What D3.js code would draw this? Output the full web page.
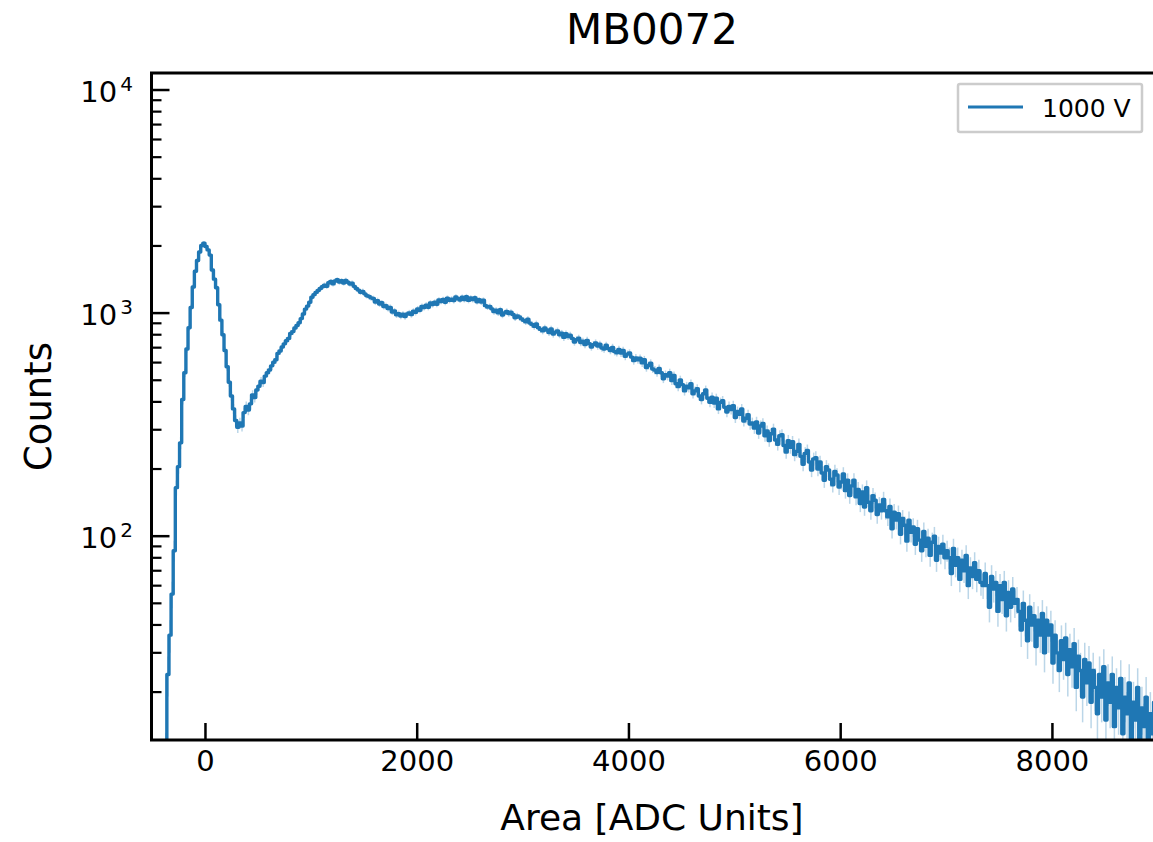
<!DOCTYPE html>
<html>
<head>
<meta charset="utf-8">
<script src="https://cdn.jsdelivr.net/npm/d3@7"></script>
<style>
    body { margin: 0; background: #fff; }
    text { font-family: "DejaVu Sans", sans-serif; fill: #000; }
</style>
</head>
<body>
<div id="chart"></div>
<script>
// histogram binning (ADC units)
let binStart = -400;
let binWidth = 20;

// counts per bin, 10 bins (200 ADC) per row
let counts = [
    5, 10, 24, 36, 55, 86, 165, 205, 262, 410,             // -400
    540, 690, 860, 1060, 1310, 1540, 1720, 1880, 2010, 2060, // -200
    1990, 1920, 1820, 1560, 1420, 1300, 1090, 930, 800, 680, // 0
    575, 490, 425, 372, 330, 308, 322, 312, 358, 382,       // 200
    368, 392, 430, 418, 452, 470, 495, 488, 522, 540,       // 400
    556, 580, 602, 618, 660, 676, 705, 728, 752, 770,       // 600
    810, 826, 858, 880, 905, 945, 990, 1042, 1075, 1118,    // 800
    1178, 1210, 1238, 1262, 1290, 1312, 1335, 1320, 1368, 1385, // 1000
    1352, 1392, 1410, 1378, 1398, 1365, 1402, 1375, 1350, 1362, // 1200
    1318, 1290, 1268, 1240, 1252, 1220, 1196, 1188, 1170, 1162, // 1400
    1120, 1138, 1098, 1112, 1070, 1080, 1048, 1060, 1012, 1022, // 1600
    982, 995, 970, 988, 965, 990, 1002, 985, 1020, 1008,    // 1800
    1045, 1030, 1072, 1060, 1085, 1062, 1110, 1092, 1118, 1096, // 2000
    1145, 1128, 1150, 1118, 1165, 1140, 1155, 1138, 1180, 1160, // 2200
    1145, 1178, 1150, 1185, 1140, 1168, 1150, 1172, 1125, 1148, // 2400
    1120, 1142, 1080, 1065, 1072, 1045, 1015, 1030, 1002, 1035, // 2600
    980, 1002, 1018, 995, 1010, 985, 952, 972, 960, 942,    // 2800
    928, 915, 938, 902, 890, 872, 895, 860, 845, 832,       // 3000
    858, 840, 818, 848, 805, 822, 832, 800, 812, 778,       // 3200
    808, 785, 796, 770, 742, 760, 772, 738, 748, 722,       // 3400
    755, 730, 705, 722, 735, 712, 725, 698, 690, 718,       // 3600
    694, 680, 702, 672, 664, 688, 662, 680, 640, 655,       // 3800
    662, 635, 612, 630, 618, 628, 598, 618, 570, 582,       // 4000
    596, 562, 555, 542, 565, 540, 508, 530, 522, 540,       // 4200
    498, 525, 482, 468, 502, 478, 448, 470, 462, 482,       // 4400
    435, 448, 458, 425, 410, 435, 452, 415, 398, 420,       // 4600
    395, 415, 372, 398, 405, 378, 360, 382, 370, 385,       // 4800
    340, 362, 352, 372, 328, 338, 350, 318, 322, 305,       // 5000
    325, 290, 312, 320, 282, 296, 268, 288, 302, 270,       // 5200
    258, 282, 285, 255, 238, 268, 250, 265, 232, 240,       // 5400
    258, 228, 210, 235, 242, 215, 198, 222, 225, 200,       // 5600
    215, 192, 178, 205, 198, 180, 170, 195, 188, 166,       // 5800
    175, 190, 160, 178, 152, 168, 178, 150, 162, 140,       // 6000
    158, 135, 165, 142, 130, 152, 145, 125, 138, 130,       // 6200
    146, 130, 122, 136, 108, 128, 118, 126, 102, 120,       // 6400
    112, 95, 118, 104, 110, 92, 108, 96, 86, 105,           // 6600
    90, 98, 82, 94, 100, 78, 90, 84, 92, 80,                // 6800
    86, 80, 68, 88, 74, 80, 64, 78, 70, 82,                 // 7000
    60, 72, 66, 76, 64, 70, 62, 60, 68, 60,                 // 7200
    48, 66, 58, 62, 46, 60, 52, 62, 44, 56,                 // 7400
    48, 58, 50, 52, 46, 38, 50, 42, 34, 48,                 // 7600
    40, 44, 32, 42, 36, 45, 30, 42, 36, 40,                 // 7800
    27, 36, 30, 25, 34, 28, 35, 24, 31, 26,                 // 8000
    33, 21, 29, 25, 19, 28, 22, 27, 18, 25,                 // 8200
    21, 16, 24, 19, 26, 15, 22, 18, 24, 14,                 // 8400
    21, 17, 23, 13, 19, 16, 22, 12, 18, 15,                 // 8600
    21, 11, 17, 14, 19, 11, 16, 13, 18, 10                  // 8800
];

let xTicks = [0, 2000, 4000, 6000, 8000];
let yMajorTicks = [10, 100, 1000, 10000];
let xLimits = [-505, 8950];
let yLimits = [12.2, 11920];

let title = "MB0072";
let xLabel = "Area [ADC Units]";
let yLabel = "Counts";
let seriesName = "1000 V";

let blue = "#1f77b4";

// set the dimensions of the page
let width = 1153;
let height = 842;
let plot = { left: 151.5, right: 1152.5, top: 73, bottom: 740 };

let svg = d3.select("#chart")
    .append("svg")
    .attr("width", width)
    .attr("height", height);

svg.append("rect")
    .attr("width", width)
    .attr("height", height)
    .attr("fill", "#fff");

// scales
var x = d3.scaleLinear()
    .domain(xLimits)
    .range([plot.left, plot.right]);

var y = d3.scaleLog()
    .domain(yLimits)
    .range([plot.bottom, plot.top]);

let data = counts.map(function (c, i) {
    return { x: binStart + binWidth * (i + 0.5), count: c, err: Math.sqrt(c) };
});

svg.append("clipPath")
    .attr("id", "clip")
    .append("rect")
    .attr("x", plot.left)
    .attr("y", plot.top)
    .attr("width", plot.right - plot.left + 10)
    .attr("height", plot.bottom - plot.top);

let area = svg.append("g").attr("clip-path", "url(#clip)");

// error bars (poisson)
area.selectAll(".err")
    .data(data)
    .enter()
    .append("line")
    .attr("class", "err")
    .attr("x1", function (d) { return x(d.x); })
    .attr("x2", function (d) { return x(d.x); })
    .attr("y1", function (d) { return y(Math.max(d.count - d.err, 1)); })
    .attr("y2", function (d) { return y(d.count + d.err); })
    .attr("stroke", blue)
    .attr("stroke-opacity", 0.3)
    .attr("stroke-width", 1.5);

// histogram drawn as steps
var line = d3.line()
    .x(function (d) { return x(d.x); })
    .y(function (d) { return y(d.count); })
    .curve(d3.curveStep);

area.append("path")
    .datum(data)
    .attr("d", line)
    .attr("fill", "none")
    .attr("stroke", blue)
    .attr("stroke-width", 3.4)
    .attr("stroke-linejoin", "round");

// x axis, ticks pointing in
svg.append("g")
    .attr("transform", "translate(0," + plot.bottom + ")")
    .call(d3.axisBottom(x).tickValues(xTicks).tickSize(-17).tickPadding(27).tickFormat(d3.format("d")))
    .call(function (g) {
        g.select(".domain").remove();
        g.selectAll(".tick line").attr("stroke", "#000").attr("stroke-width", 2.5);
        g.selectAll(".tick text")
            .attr("font-size", 29)
            .attr("font-family", "DejaVu Sans")
            .attr("dy", "0.15em");
    });

// y axis minor ticks
let minor = [];
[10, 100, 1000].forEach(function (dec) {
    for (let k = 2; k <= 9; k++) {
        minor.push(dec * k);
    }
});
minor = minor.filter(function (v) { return v >= yLimits[0] && v <= yLimits[1]; });

svg.append("g")
    .selectAll("line")
    .data(minor)
    .enter()
    .append("line")
    .attr("x1", plot.left)
    .attr("x2", plot.left + 10)
    .attr("y1", function (d) { return y(d); })
    .attr("y2", function (d) { return y(d); })
    .attr("stroke", "#000")
    .attr("stroke-width", 2.2);

let yMajor = yMajorTicks.filter(function (v) { return v >= yLimits[0] && v <= yLimits[1]; });

svg.append("g")
    .selectAll("line")
    .data(yMajor)
    .enter()
    .append("line")
    .attr("x1", plot.left)
    .attr("x2", plot.left + 18)
    .attr("y1", function (d) { return y(d); })
    .attr("y2", function (d) { return y(d); })
    .attr("stroke", "#000")
    .attr("stroke-width", 2.5);

// y tick labels as 10^n
let yLab = svg.append("g")
    .selectAll("text")
    .data(yMajor)
    .enter()
    .append("text")
    .attr("x", 133)
    .attr("y", function (d) { return y(d) + 12; })
    .attr("text-anchor", "end")
    .attr("font-size", 29);
yLab.append("tspan").text("10");
yLab.append("tspan")
    .attr("dx", 3)
    .attr("dy", -11)
    .attr("font-size", 20)
    .text(function (d) { return Math.round(Math.log10(d)); });

// spines (left, bottom, top)
svg.append("path")
    .attr("d", "M" + (plot.right + 5) + "," + plot.top + "H" + plot.left + "V" + plot.bottom + "H" + (plot.right + 5))
    .attr("fill", "none")
    .attr("stroke", "#000")
    .attr("stroke-width", 3);

// title and labels
svg.append("text")
    .attr("x", (plot.left + plot.right) / 2)
    .attr("y", 44)
    .attr("text-anchor", "middle")
    .attr("font-size", 42)
    .text(title);

svg.append("text")
    .attr("x", (plot.left + plot.right) / 2)
    .attr("y", 830)
    .attr("text-anchor", "middle")
    .attr("font-size", 36)
    .text(xLabel);

svg.append("text")
    .attr("transform", "translate(51," + ((plot.top + plot.bottom) / 2) + ") rotate(-90)")
    .attr("text-anchor", "middle")
    .attr("font-size", 37)
    .text(yLabel);

// legend
let legend = svg.append("g");
legend.append("rect")
    .attr("x", 958)
    .attr("y", 84)
    .attr("width", 184)
    .attr("height", 48)
    .attr("rx", 2)
    .attr("fill", "#fff")
    .attr("stroke", "#cccccc")
    .attr("stroke-width", 2.5);
legend.append("line")
    .attr("x1", 968)
    .attr("x2", 1023)
    .attr("y1", 107)
    .attr("y2", 107)
    .attr("stroke", blue)
    .attr("stroke-width", 3);
legend.append("text")
    .attr("x", 1042)
    .attr("y", 117)
    .attr("font-size", 25)
    .text(seriesName);
</script>
</body>
</html>
